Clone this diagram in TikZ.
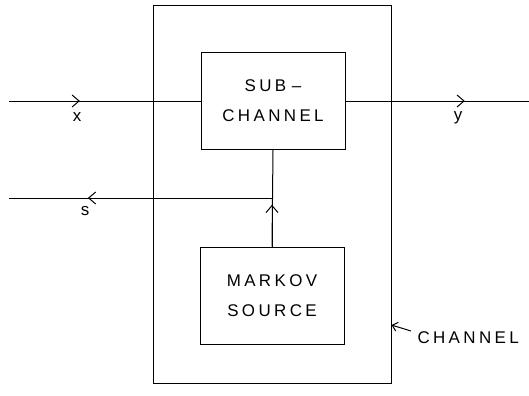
\documentclass[tikz,border=0pt]{standalone}
\usepackage{fontspec}
\setmainfont{Liberation Sans}[LetterSpace=20]
\usepackage{tikz}
\usetikzlibrary{arrows.meta, positioning, decorations.markings}

\begin{document}
\begin{tikzpicture}[
    x=1bp, y=-1bp,
    font=\fontsize{17}{30}\selectfont,
    line width=1bp,
    box_common/.style={draw, line width=1bp, align=center, inner sep=0pt},
    box_block/.style={box_common, minimum width=144bp, minimum height=97bp},
    barb/.tip={Straight Barb[length=7bp, width=12bp, line width=1bp]},
    smallbarb/.tip={Straight Barb[length=5bp, width=9bp, line width=1bp]},
    midarrow/.style={postaction={decorate}, decoration={markings, mark=at position #1 with {\arrow{barb}}}},
    lbl/.style={inner sep=0pt}
]
\useasboundingbox (0,0) rectangle (529,395);

% Outer channel
\node[box_common, minimum width=238bp, minimum height=378bp] (channel) at (272,194) {};

% Blocks
\node[box_block] (sub) at (273,101) {SUB\,\,--\\CHANNEL};
\node[box_block] (markov) at (272,295.5) {MARKOV\\SOURCE};

% Ends
\coordinate (xin) at (9,101);
\coordinate (yout) at (529,101);
\coordinate (sout) at (9,198);
\coordinate (join) at (markov.north |- sout);

% Arrows
\draw[midarrow=0.37] (xin) -- (sub.west);
\draw[midarrow=0.65] (sub.east) -- (yout);
\draw (sub.south) -- (markov.north);
\draw[midarrow=0.86] (markov.north) -- (join);
\draw[midarrow=0.70] (join) -- (sout);

% Labels
\node[lbl] (xlbl) at (77,117) {x};
\node[lbl] (ylbl) at (458,118) {y};
\node[lbl] (slbl) at (85,211) {s};

\node[lbl, anchor=west] (chlbl) at (417,338) {CHANNEL};
\coordinate (chtip) at (channel.east |- 0,325);
\coordinate (chtail) at (411,331);
\draw[-smallbarb] (chtail) -- (chtip);

\end{tikzpicture}
\end{document}
